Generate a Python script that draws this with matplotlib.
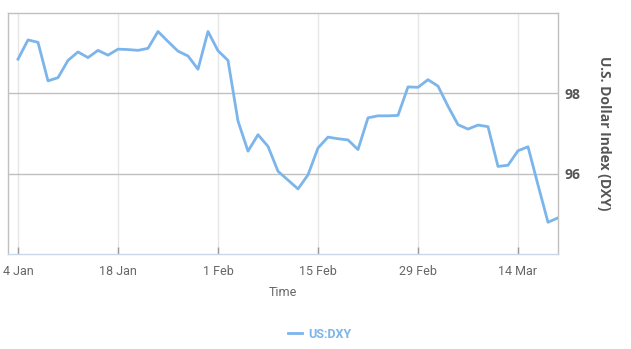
import matplotlib
matplotlib.use("Agg")
import matplotlib.pyplot as plt
from matplotlib import font_manager

# Data: US Dollar Index, trading days starting 4 Jan
tick_labels = ["4 Jan", "18 Jan", "1 Feb", "15 Feb", "29 Feb", "14 Mar"]
tick_index = [0, 10, 20, 30, 40, 50]
dxy = [98.85, 99.33, 99.27, 98.31, 98.39, 98.82, 99.03, 98.89, 99.07, 98.95,
       99.10, 99.09, 99.07, 99.12, 99.54, 99.29, 99.05, 98.93, 98.60, 99.54,
       99.06, 98.82, 97.31, 96.56, 96.97, 96.68, 96.06, 95.84, 95.62, 95.97,
       96.64, 96.91, 96.87, 96.84, 96.60, 97.39, 97.44, 97.44, 97.45, 98.16,
       98.15, 98.34, 98.18, 97.68, 97.22, 97.11, 97.21, 97.17, 96.18, 96.21,
       96.57, 96.67, 95.72, 94.79, 94.90]
x = list(range(len(dxy)))
series_name = "US:DXY"

avail = {f.name for f in font_manager.fontManager.ttflist}
narrow = "Liberation Sans Narrow" if "Liberation Sans Narrow" in avail else "Roboto"

fig = plt.figure(figsize=(6.31, 3.49), dpi=100)
ax = fig.add_axes([8/631, 1-254/349, (558-8)/631, (254-13)/349])

line, = ax.plot(x, dxy, color="#7cb5ec", lw=2, label=series_name, solid_joinstyle="round", zorder=3)

ax.set_xlim(-1, 54)
ax.set_ylim(94, 100)

ax.set_xticks(tick_index)
ax.set_xticklabels(tick_labels, fontsize=9, color="#666666", family=[narrow, "DejaVu Sans"])
ax.tick_params(axis="x", direction="in", length=5, width=1, color="#999999", pad=8)
ax.set_yticks([96, 98])
ax.yaxis.tick_right()
ax.tick_params(axis="y", length=0, pad=5, labelsize=10, labelcolor="#555555")
for lab in ax.get_yticklabels():
    lab.set_fontweight("bold")
    lab.set_family(["Open Sans", "DejaVu Sans"])

ax.grid(axis="x", color="#e6e6e6", lw=1, zorder=0)
ax.grid(axis="y", color="#c0c0c0", lw=1, zorder=0)

for s in ["left", "top", "right"]:
    ax.spines[s].set_color("#c0c0c0")
    ax.spines[s].set_linewidth(1)
ax.spines["bottom"].set_color("#ccd6eb")
ax.spines["bottom"].set_linewidth(1)

ax.set_xlabel("Time", fontsize=9, color="#666666", family=[narrow, "DejaVu Sans"], labelpad=6)

fig.text(604/631, 1-133/349, "U.S. Dollar Index (DXY)", rotation=270, ha="center", va="center",
         fontsize=10, color="#555555", fontweight="bold", family=["Open Sans", "DejaVu Sans"])

leg = fig.legend(handles=[line], loc="center", bbox_to_anchor=(320/631, 1-334/349), frameon=False,
                 handlelength=1.1, handletextpad=0.5,
                 prop={"family": [narrow, "DejaVu Sans"], "weight": "bold", "size": 9})
for t in leg.get_texts():
    t.set_color("#7cb5ec")

fig.savefig("out.png", dpi=100)
